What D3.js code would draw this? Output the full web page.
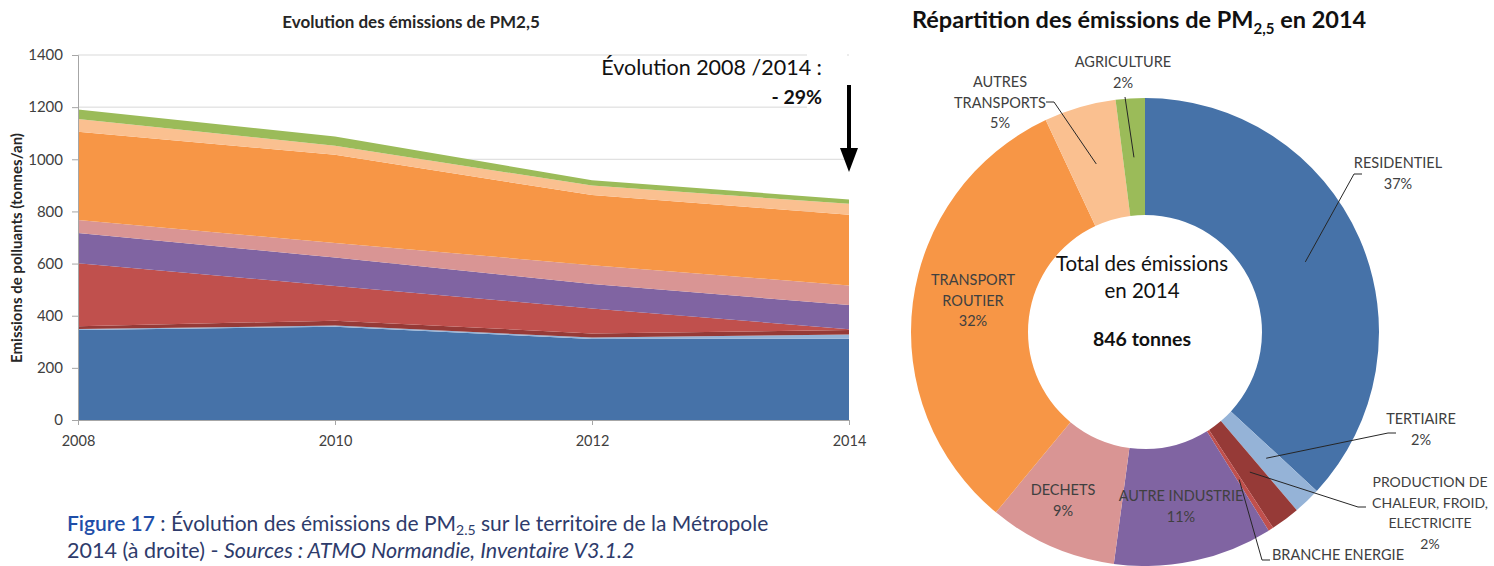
<!DOCTYPE html>
<html>
<head>
<meta charset="utf-8">
<script src="https://cdn.jsdelivr.net/npm/d3@7/dist/d3.min.js"></script>
<style>
  body { margin: 0; background: #fff; }
  svg { display: block; font-family: Lato, "Open Sans", sans-serif; }
</style>
</head>
<body>
<div id="chart"></div>
<script>
// data (tonnes / an)
var years = [2008, 2010, 2012, 2014];
var sectors = ["RESIDENTIEL", "TERTIAIRE", "PRODUCTION DE|CHALEUR, FROID,|ELECTRICITE", "BRANCHE ENERGIE",
               "AUTRE INDUSTRIE", "DECHETS", "TRANSPORT|ROUTIER", "AUTRES|TRANSPORTS", "AGRICULTURE"];
var residentiel     = [345, 358, 311, 312];
var tertiaire       = [4, 4, 5, 16];
var production      = [11, 19, 16, 17];
var brancheEnergie  = [241, 133, 96, 3];
var autreIndustrie  = [116, 109, 94, 93];
var dechets         = [50, 56, 72, 75];
var transportRoutier = [339, 338, 269, 271];
var autresTransports = [49, 35, 36, 42];
var agriculture     = [36, 35, 21, 17];
var yTicks = [0, 200, 400, 600, 800, 1000, 1200, 1400];

var series = [residentiel, tertiaire, production, brancheEnergie, autreIndustrie,
              dechets, transportRoutier, autresTransports, agriculture];
var colors = ["#4672a8", "#95b3d7", "#963a37", "#c0504d", "#8064a2",
              "#d99594", "#f79646", "#fac090", "#9bbb59"];

var W = 1494, H = 566;
var svg = d3.select("#chart").append("svg")
    .attr("width", W)
    .attr("height", H);

// ---------- left chart : stacked areas ----------
var x = d3.scaleLinear().domain([2008, 2014]).range([78, 849]);
var y = d3.scaleLinear().domain([0, 1400]).range([420, 55]);

var table = years.map(function(yr, i) {
    var row = {year: yr};
    series.forEach(function(s, k) { row["s" + k] = s[i]; });
    return row;
});
var keys = series.map(function(s, k) { return "s" + k; });
var stacked = d3.stack().keys(keys)(table);

// gridlines
svg.append("g").selectAll("line")
    .data(yTicks.slice(1))
    .enter().append("line")
    .attr("x1", x(2008)).attr("x2", x(2014))
    .attr("y1", function(d) { return y(d); })
    .attr("y2", function(d) { return y(d); })
    .attr("stroke", "#d9d9d9")
    .attr("stroke-width", 1);

var area = d3.area()
    .x(function(d) { return x(d.data.year); })
    .y0(function(d) { return y(d[0]); })
    .y1(function(d) { return y(d[1]); });

svg.append("g").selectAll("path")
    .data(stacked)
    .enter().append("path")
    .attr("d", area)
    .attr("fill", function(d, i) { return colors[i]; });

// y axis with minor ticks
var yAxisG = svg.append("g").attr("transform", "translate(78,0)");
yAxisG.call(d3.axisLeft(y).tickValues(d3.range(0, 1401, 40)).tickSize(3).tickFormat(""));
yAxisG.call(d3.axisLeft(y).tickValues(yTicks).tickSize(6).tickPadding(9).tickFormat(d3.format("d")));
yAxisG.selectAll("path, line").attr("stroke", "#a6a6a6");
yAxisG.selectAll("text").attr("font-size", 15).attr("fill", "#404040")
    .attr("font-family", "Lato, sans-serif");

var xAxisG = svg.append("g").attr("transform", "translate(0,420)")
    .call(d3.axisBottom(x).tickValues(years).tickSize(5).tickPadding(11).tickFormat(d3.format("d")));
xAxisG.selectAll("path, line").attr("stroke", "#a6a6a6");
xAxisG.selectAll("text").attr("font-size", 14.5).attr("fill", "#404040")
    .attr("font-family", "Lato, sans-serif");

svg.append("text")
    .attr("transform", "translate(22,248) rotate(-90)")
    .attr("text-anchor", "middle")
    .attr("font-size", 15)
    .attr("font-weight", "bold")
    .attr("fill", "#262626")
    .text("Emissions de polluants (tonnes/an)");

svg.append("text")
    .attr("x", 411).attr("y", 28)
    .attr("text-anchor", "middle")
    .attr("font-size", 17)
    .attr("font-weight", "bold")
    .attr("fill", "#262626")
    .text("Evolution des émissions de PM2,5");

// annotation box + arrow
svg.append("rect").attr("x", 807).attr("y", 50).attr("width", 40).attr("height", 62).attr("fill", "#fff");
svg.append("text")
    .attr("x", 822).attr("y", 75)
    .attr("text-anchor", "end")
    .attr("font-size", 21.5)
    .attr("fill", "#111")
    .text("Évolution 2008 /2014 :");
svg.append("text")
    .attr("x", 822).attr("y", 104)
    .attr("text-anchor", "end")
    .attr("font-size", 19.5)
    .attr("font-weight", "bold")
    .attr("fill", "#111")
    .text("- 29%");
svg.append("line")
    .attr("x1", 849).attr("x2", 849).attr("y1", 85).attr("y2", 150)
    .attr("stroke", "#000").attr("stroke-width", 4);
svg.append("path")
    .attr("d", "M840,148L858,148L849,172Z")
    .attr("fill", "#000");

// ---------- right chart : donut 2014 ----------
var cx = 1145, cy = 332, rOut = 234, rIn = 117;
var last = series.map(function(s) { return s[s.length - 1]; });
var total = d3.sum(last);

var pie = d3.pie().sort(null).value(function(d) { return d; });
var arcs = pie(last);
var arc = d3.arc().innerRadius(rIn).outerRadius(rOut);
var mid = d3.arc().innerRadius(175).outerRadius(175);

var donut = svg.append("g").attr("transform", "translate(" + cx + "," + cy + ")");
donut.selectAll("path")
    .data(arcs)
    .enter().append("path")
    .attr("d", arc)
    .attr("fill", function(d, i) { return colors[i]; });

var title2 = svg.append("text")
    .attr("x", 912).attr("y", 28)
    .attr("font-size", 23.5)
    .attr("font-weight", "bold")
    .attr("fill", "#111");
title2.append("tspan").text("Répartition des émissions de PM");
title2.append("tspan").attr("font-size", 15).attr("dy", 6).text("2,5");
title2.append("tspan").attr("dy", -6).text(" en 2014");

// label placement (x, first baseline, anchor, leader points, show percent)
var labelPos = [
    {x: 1398, y: 168, lead: [[1354, 174], [1362, 174]]},
    {x: 1421, y: 424, lead: [[1388, 433], [1396, 433]]},
    {x: 1430, y: 487, size: 14, lead: [[1358, 507], [1366, 507]]},
    {x: 1272, y: 560, anchor: "start", pct: false, lead: [[1262, 560], [1270, 560]]},
    {x: 1181, y: 501, lead: null},
    {x: 1063, y: 495, lead: null},
    {x: 973, y: 285, lead: null},
    {x: 1000, y: 87, lead: [[1054, 102], [1046, 102]]},
    {x: 1123, y: 67, lead: [[1125, 97]]}
];

arcs.forEach(function(a, i) {
    var p = labelPos[i];
    if (p.lead) {
        var c = mid.centroid(a);
        var pts = [[cx + c[0], cy + c[1]]].concat(p.lead);
        svg.append("path")
            .attr("d", d3.line()(pts))
            .attr("fill", "none")
            .attr("stroke", "#262626")
            .attr("stroke-width", 1);
    }
    var lines = sectors[i].split("|");
    if (p.pct !== false) lines.push(Math.round(last[i] / total * 100) + "%");
    var t = svg.append("text")
        .attr("text-anchor", p.anchor || "middle")
        .attr("font-size", p.size || 14.5)
        .attr("fill", "#404040");
    lines.forEach(function(l, j) {
        t.append("tspan").attr("x", p.x).attr("y", p.y + j * 20.5).text(l);
    });
});

// centre of the donut
svg.append("text").attr("x", 1142).attr("y", 271).attr("text-anchor", "middle")
    .attr("font-size", 20.5).attr("fill", "#111").text("Total des émissions");
svg.append("text").attr("x", 1142).attr("y", 298).attr("text-anchor", "middle")
    .attr("font-size", 20.5).attr("fill", "#111").text("en 2014");
svg.append("text").attr("x", 1142).attr("y", 346).attr("text-anchor", "middle")
    .attr("font-size", 19.5).attr("font-weight", "bold").attr("fill", "#111")
    .text(d3.format("d")(total) + " tonnes");

// ---------- caption ----------
svg.append("clipPath").attr("id", "capclip")
    .append("rect").attr("x", 0).attr("y", 495).attr("width", 776).attr("height", 71);
var cap = svg.append("g").attr("clip-path", "url(#capclip)");
var l1 = cap.append("text").attr("x", 67).attr("y", 531).attr("font-size", 21).attr("fill", "#2e3b6b");
l1.append("tspan").attr("fill", "#1f4ea8").attr("font-weight", 600).text("Figure 17");
l1.append("tspan").text(" : Évolution des émissions de PM");
l1.append("tspan").attr("font-size", 14).attr("dy", 4).text("2.5");
l1.append("tspan").attr("dy", -4).text(" sur le territoire de la Métropole");
var l2 = cap.append("text").attr("x", 67).attr("y", 558).attr("font-size", 21.5).attr("fill", "#2e3b6b");
l2.append("tspan").text("2014 (à droite) - ");
l2.append("tspan").attr("font-style", "italic").text("Sources : ATMO Normandie, Inventaire V3.1.2");
</script>
</body>
</html>
